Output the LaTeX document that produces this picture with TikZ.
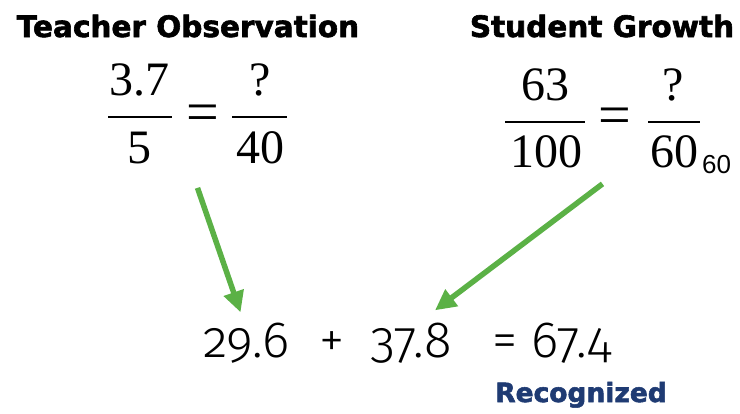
\documentclass[tikz,border=0pt]{standalone}
\usepackage{fontspec}
\setmainfont{Liberation Serif}
\newfontfamily\headfont{DejaVu Sans}[BoldFeatures={FakeBold=2}]
\newfontfamily\sumfont{Fira Sans Light}[Numbers=OldStyle]
\newfontfamily\subfont{Liberation Sans}
\usetikzlibrary{positioning, arrows.meta, fit}
\definecolor{ArrowGreen}{HTML}{5BB146}
\definecolor{Navy}{HTML}{1F3B73}

\begin{document}
\begin{tikzpicture}[
    x=1pt, y=-1pt,
    heading/.style={font=\headfont\bfseries\fontsize{29.5}{32}\selectfont, inner sep=0pt, anchor=base},
    frac/.style={font=\fontsize{48}{52}\selectfont, inner sep=0pt, anchor=base},
    eqsign/.style={font=\fontsize{58}{60}\selectfont, inner sep=0pt, anchor=center},
    bar/.style={line width=2.6pt},
    sumtxt/.style={font=\sumfont\fontsize{51}{54}\selectfont, inner sep=0pt, anchor=base west},
    arr/.style={-{Triangle[length=21pt, width=20pt]}, line width=5.5pt, color=ArrowGreen}
]
\useasboundingbox (0,0) rectangle (740,413);

% Headings
\node[heading] (obs) at (188,37) {Teacher Observation};
\node[heading] (grow) at (602,37) {Student Growth};

% Teacher observation fraction
\node[frac] (numA) at (139,95) {3.7};
\node[frac] (denA) at (139,163) {5};
\coordinate (barAl) at (108,117);
\coordinate (barAr) at (172,117);
\draw[bar] (barAl) -- (barAr);
\node[eqsign] (eqA) at (203,118) {=};
\node[frac] (numA2) at (260,95) {?};
\node[frac] (denA2) at (260,163) {40};
\coordinate (barAAl) at (232,117);
\coordinate (barAAr) at (287,117);
\draw[bar] (barAAl) -- (barAAr);
\node[fit=(numA)(denA)(numA2)(denA2)(barAl)(barAAr), inner sep=0pt] (fracA) {};

% Student growth fraction
\node[frac] (numB) at (545,100) {63};
\node[frac] (denB) at (546,167) {100};
\coordinate (barBl) at (505,122);
\coordinate (barBr) at (585,122);
\draw[bar] (barBl) -- (barBr);
\node[eqsign] (eqB) at (615,121) {=};
\node[frac] (numB2) at (673,100) {?};
\node[frac] (denB2) at (674,167) {60};
\coordinate (barBBl) at (648,122);
\coordinate (barBBr) at (700,122);
\draw[bar] (barBBl) -- (barBBr);
\node[font=\subfont\fontsize{26}{28}\selectfont, inner sep=0pt, anchor=base west] (subB) at (702,173) {60};
\node[fit=(numB)(denB)(numB2)(denB2)(barBl)(barBBr), inner sep=0pt] (fracB) {};

% Sum
\node[sumtxt] (sumA) at (203,357) {29.6};
\node[sumtxt, anchor=base] (plus) at (332,357) {+};
\node[sumtxt] (sumB) at (370,357) {37.8};
\node[sumtxt] (total) at (492,357) {= 67.4};
\node[heading, anchor=base west, text=Navy, font=\headfont\bfseries\fontsize{26.5}{28}\selectfont] (recog) at (495,402) {Recognized};

\draw[arr] ([yshift=-24pt]fracA.south) -- ([xshift=-6pt, yshift=10pt]sumA.north);
\draw[arr] ([yshift=-16pt]fracB.south) -- ([xshift=24pt, yshift=12pt]sumB.north);

\end{tikzpicture}
\end{document}
